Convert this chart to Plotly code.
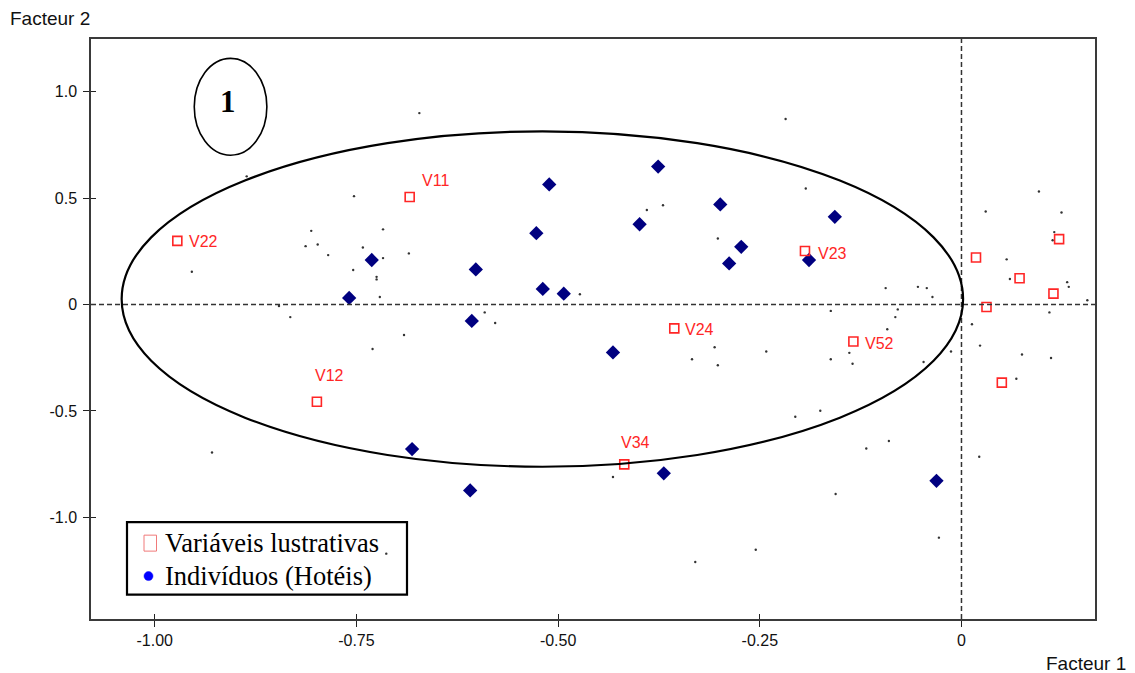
import plotly.graph_objects as go

# ---- data ----
hotel_x = [-0.731, -0.759, -0.681, -0.609, -0.607, -0.602, -0.527, -0.519, -0.511, -0.493,
           -0.432, -0.399, -0.376, -0.369, -0.299, -0.288, -0.273, -0.189, -0.157, -0.031]
hotel_y = [0.209, 0.031, -0.679, -0.873, -0.077, 0.165, 0.335, 0.073, 0.564, 0.051,
           -0.225, 0.377, 0.648, -0.793, 0.470, 0.193, 0.271, 0.209, 0.412, -0.828]

var_names = ["V22", "V11", "V23", "V24", "V52", "V12", "V34", "", "", "", "", "", ""]
var_x = [-0.972, -0.684, -0.194, -0.356, -0.134, -0.799, -0.418,
         0.018, 0.121, 0.072, 0.114, 0.031, 0.050]
var_y = [0.299, 0.505, 0.251, -0.112, -0.174, -0.457, -0.751,
         0.221, 0.307, 0.123, 0.051, -0.012, -0.367]

small_x = [-0.886, -0.753, -0.806, -0.813, -0.798, -0.785, -0.742, -0.717, -0.717, -0.754,
           -0.725, -0.725, -0.721, -0.954, -0.846, -0.832, -0.730, -0.685, -0.473, -0.591,
           -0.578, -0.691, -0.390, -0.370, -0.432, -0.193, -0.302, -0.094, -0.054, -0.043,
           -0.036, -0.162, -0.079, -0.082, -0.092, -0.306, -0.242, -0.334, -0.302, -0.162,
           -0.139, -0.135, -0.047, -0.013, 0.096, 0.030, 0.124, 0.115, 0.113, 0.056,
           0.060, 0.131, 0.133, 0.156, 0.109, 0.013, 0.023, 0.075, 0.111, 0.068,
           -0.206, -0.175, -0.118, -0.090, -0.156, -0.028, -0.255, -0.330, -0.929, -0.713,
           -0.672, -0.218, 0.022]
small_y = [0.602, 0.509, 0.346, 0.274, 0.282, 0.232, 0.268, 0.353, 0.218, 0.162,
           0.130, 0.118, 0.035, 0.154, -0.007, -0.059, -0.209, 0.240, 0.048, -0.037,
           -0.087, -0.143, 0.444, 0.466, -0.810, 0.545, 0.310, 0.077, 0.083, 0.077,
           0.035, -0.030, -0.023, -0.059, -0.116, -0.201, -0.221, -0.257, -0.285, -0.257,
           -0.227, -0.278, -0.270, -0.221, 0.531, 0.437, 0.432, 0.340, 0.302, 0.212,
           0.120, 0.105, 0.083, 0.020, -0.037, -0.093, -0.193, -0.235, -0.251, -0.349,
           -0.527, -0.499, -0.676, -0.641, -0.890, -1.095, -1.152, -1.209, -0.695, -1.170,
           0.899, 0.871, -0.715]

x_ticks = [-1.0, -0.75, -0.5, -0.25, 0]
x_tick_text = ["-1.00", "-0.75", "-0.50", "-0.25", "0"]
y_ticks = [1.0, 0.5, 0, -0.5, -1.0]
y_tick_text = ["1.0", "0.5", "0", "-0.5", "-1.0"]

group_ellipse = [-1.041, 0.002, -0.762, 0.813]   # x0, x1, y0, y1
group_label = "1"
group_label_ellipse = [-0.951, -0.861, 0.701, 1.156]
group_label_pos = [-0.909, 0.954]

legend_labels = ["Variáveis lustrativas", "Indivíduos (Hotéis)"]

# ---- layout helpers ----
W, H = 1135, 673
L, R, T, B = 91, 1095, 38.5, 619.5
XR = [-1.079, 0.1655]
YR = [-1.477, 1.247]


def px(xp):
    return (xp - L) / (R - L)


def py(yp):
    return (B - yp) / (B - T)


RED = "#ff2626"
NAVY = "#000080"
SANS = "Liberation Sans, Arial, sans-serif"
SERIF = "Liberation Serif, Times New Roman, serif"

fig = go.Figure()

fig.add_trace(go.Scatter(x=small_x, y=small_y, mode="markers",
                         marker=dict(size=2.4, color="#333333"), hoverinfo="skip"))
fig.add_trace(go.Scatter(x=hotel_x, y=hotel_y, mode="markers",
                         marker=dict(symbol="diamond", size=11, color=NAVY)))
fig.add_trace(go.Scatter(x=var_x, y=var_y, mode="markers",
                         marker=dict(symbol="square-open", size=9, color=RED,
                                     line=dict(width=1.6, color=RED))))

label_offsets = {"V22": (10, -1), "V11": (10, 16), "V23": (11, -2), "V24": (9, -1),
                 "V52": (10, -2), "V12": (-4, 26), "V34": (-5, 22)}
annotations = []
for name, xv, yv in zip(var_names, var_x, var_y):
    if not name:
        continue
    dx, dy = label_offsets[name]
    annotations.append(dict(x=xv, y=yv, xref="x", yref="y", text=name, showarrow=False,
                            xanchor="left", yanchor="middle", xshift=dx, yshift=dy,
                            font=dict(family=SANS, size=16, color=RED)))

annotations.append(dict(x=group_label_pos[0], y=group_label_pos[1], xref="x", yref="y",
                        text="<b>" + group_label + "</b>", showarrow=False,
                        font=dict(family=SERIF, size=31, color="black")))

annotations.append(dict(x=px(8), y=py(18), xref="paper", yref="paper", text="Facteur 2",
                        showarrow=False, xanchor="left", yanchor="middle",
                        font=dict(family=SANS, size=19, color="#111111")))
annotations.append(dict(x=px(1044), y=py(664), xref="paper", yref="paper", text="Facteur 1",
                        showarrow=False, xanchor="left", yanchor="middle",
                        font=dict(family=SANS, size=19, color="#111111")))

annotations.append(dict(x=px(163), y=py(543), xref="paper", yref="paper", text=legend_labels[0],
                        showarrow=False, xanchor="left", yanchor="middle",
                        font=dict(family=SERIF, size=26.5, color="black")))
annotations.append(dict(x=px(163), y=py(576), xref="paper", yref="paper", text=legend_labels[1],
                        showarrow=False, xanchor="left", yanchor="middle",
                        font=dict(family=SERIF, size=26.5, color="black")))

shapes = [
    dict(type="line", xref="paper", yref="y", x0=0, x1=1, y0=0, y1=0,
         line=dict(color="#333333", width=1.5, dash="5px,3px")),
    dict(type="line", xref="x", yref="paper", x0=0, x1=0, y0=0, y1=1,
         line=dict(color="#333333", width=1.5, dash="5px,3px")),
    dict(type="circle", xref="x", yref="y", x0=group_ellipse[0], x1=group_ellipse[1],
         y0=group_ellipse[2], y1=group_ellipse[3], line=dict(color="black", width=2.2)),
    dict(type="circle", xref="x", yref="y", x0=group_label_ellipse[0], x1=group_label_ellipse[1],
         y0=group_label_ellipse[2], y1=group_label_ellipse[3], line=dict(color="black", width=1.6)),
    # legend box
    dict(type="rect", xref="paper", yref="paper", x0=px(127), x1=px(407), y0=py(595), y1=py(522.5),
         fillcolor="rgba(0,0,0,0)", line=dict(color="black", width=2.2), layer="above"),
    dict(type="rect", xref="paper", yref="paper", x0=px(144), x1=px(156.5), y0=py(551.5), y1=py(535.5),
         line=dict(color="#f07a7a", width=1), layer="above"),
    dict(type="circle", xref="paper", yref="paper", x0=px(144), x1=px(153), y0=py(581), y1=py(572),
         fillcolor="#0000ff", line=dict(color="#0000ff", width=0.5), layer="above"),
]

axis_common = dict(showgrid=False, zeroline=False, showline=True, mirror=True,
                   linecolor="#3a3a3a", linewidth=1.5, ticks="outside", ticklen=6,
                   tickcolor="#222222", tickwidth=1.3,
                   tickfont=dict(family=SANS, size=16, color="#111111"))

fig.update_layout(
    width=W, height=H,
    margin=dict(l=L, r=W - R, t=T, b=H - B),
    paper_bgcolor="white", plot_bgcolor="white",
    showlegend=False,
    xaxis=dict(range=XR, tickvals=x_ticks, ticktext=x_tick_text, **axis_common),
    yaxis=dict(range=YR, tickvals=y_ticks, ticktext=y_tick_text, ticklabelstandoff=3,
               **axis_common),
    xaxis2=dict(range=XR, overlaying="x", anchor="y", side="bottom", tickvals=x_ticks,
                showticklabels=False, showgrid=False, zeroline=False, showline=False,
                ticks="inside", ticklen=5, tickcolor="#222222", tickwidth=1.3),
    yaxis2=dict(range=YR, overlaying="y", anchor="x", side="left", tickvals=y_ticks,
                showticklabels=False, showgrid=False, zeroline=False, showline=False,
                ticks="inside", ticklen=5, tickcolor="#222222", tickwidth=1.3),
    annotations=annotations,
    shapes=shapes,
)
fig.add_trace(go.Scatter(x=[], y=[], xaxis="x2", yaxis="y2", hoverinfo="skip"))

fig.write_html("out.html",
               config={"displayModeBar": False},
               post_script="document.body.style.margin='0';document.body.style.padding='0';"
                           "document.body.style.overflow='hidden';")
